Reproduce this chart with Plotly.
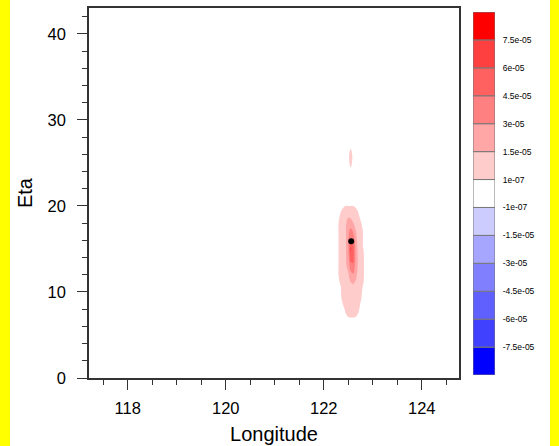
import plotly.graph_objects as go

# ---------------- data ----------------
lon = [122.25, 122.30, 122.35, 122.40, 122.45, 122.50, 122.55,
       122.60, 122.65, 122.70, 122.75, 122.80, 122.85, 122.90]
eta = [6, 7, 8, 9, 10, 11, 12, 13, 14, 15, 16, 17, 18, 19, 20,
       21, 22, 23, 24, 25, 26, 27, 28]
# field values in units of 1e-5
field_e5 = [
    [0, 0, 0, 0, 0, 0, 0, 0, 0, 0, 0, 0, 0, 0],                               # 6
    [0, 0, 0, 0, 0, 0, 0, 0, 0, 0, 0, 0, 0, 0],                               # 7
    [0, 0, 0, 0, 0.02, 0.1, 0.3, 0.3, 0.1, 0.02, 0, 0, 0, 0],                 # 8
    [0, 0, 0, 0.025, 0.3, 0.5, 0.7, 0.7, 0.5, 0.2, 0.0125, 0, 0, 0],          # 9
    [0, 0, 0, 0.3, 0.6, 0.8, 0.9, 1.0, 0.8, 0.5, 0.025, 0, 0, 0],             # 10
    [0, 0, 0.0167, 0.5, 0.9, 1.1, 1.4, 1.6, 1.3, 0.9, 0.4, 0.0125, 0, 0],     # 11
    [0, 0, 0.4, 0.7, 1.1, 1.3, 2.4, 2.8, 2.0, 1.1, 0.5, 0.0167, 0, 0],        # 12
    [0, 0, 0.5, 0.8, 1.3, 2.0, 3.8, 4.2, 2.4, 1.3, 0.6, 0.0167, 0, 0],        # 13
    [0, 0, 0.5, 0.9, 1.4, 2.4, 5.2, 5.0, 2.6, 1.3, 0.6, 0.0167, 0, 0],        # 14
    [0, 0, 0.5, 0.9, 1.4, 2.6, 6.3, 5.0, 2.5, 1.2, 0.5, 0.0125, 0, 0],        # 15
    [0, 0, 0.5, 0.9, 1.4, 2.8, 4.8, 4.2, 2.2, 1.0, 0.4, 0, 0, 0],             # 16
    [0, 0, 0.5, 0.9, 1.4, 2.6, 3.6, 2.9, 1.7, 0.8, 0.3, 0, 0, 0],             # 17
    [0, 0, 0.4, 0.8, 1.3, 2.2, 2.1, 1.6, 1.0, 0.5, 0.015, 0, 0, 0],           # 18
    [0, 0, 0.015, 0.05, 0.8, 1.1, 1.0, 0.8, 0.05, 0.015, 0, 0, 0, 0],         # 19
    [0, 0, 0, 0, 0, 0, 0, 0, 0, 0, 0, 0, 0, 0],                               # 20
    [0, 0, 0, 0, 0, 0, 0, 0, 0, 0, 0, 0, 0, 0],                               # 21
    [0, 0, 0, 0, 0, 0, 0, 0, 0, 0, 0, 0, 0, 0],                               # 22
    [0, 0, 0, 0, 0, 0, 0, 0, 0, 0, 0, 0, 0, 0],                               # 23
    [0, 0, 0, 0, 0, 0, 0, 0, 0, 0, 0, 0, 0, 0],                               # 24
    [0, 0, 0, 0, 0, 0, 0.02, 0, 0, 0, 0, 0, 0, 0],                            # 25
    [0, 0, 0, 0, 0, 0, 0.025, 0, 0, 0, 0, 0, 0, 0],                           # 26
    [0, 0, 0, 0, 0, 0, 0, 0, 0, 0, 0, 0, 0, 0],                               # 27
    [0, 0, 0, 0, 0, 0, 0, 0, 0, 0, 0, 0, 0, 0],                               # 28
]
point_lon = [122.56]
point_eta = [15.9]

# colour bar (bottom -> top)
bar_colors = ["#0000ff", "#4040ff", "#6060ff", "#8080ff", "#a6a6ff", "#ccccff",
              "#ffffff",
              "#ffcccc", "#ffa6a6", "#ff8080", "#ff6060", "#ff4040", "#ff0000"]
bar_labels = ["-7.5e-05", "-6e-05", "-4.5e-05", "-3e-05", "-1.5e-05", "-1e-07",
              "1e-07", "1.5e-05", "3e-05", "4.5e-05", "6e-05", "7.5e-05"]

x_ticks = [118, 120, 122, 124]
y_ticks = [0, 10, 20, 30, 40]

# ---------------- figure ----------------
z = [[v * 1e-5 for v in row] for row in field_e5]
pos_colors = bar_colors[6:]  # white, then reds
n = len(pos_colors)
cscale = [[i / (n - 1), c] for i, c in enumerate(pos_colors)]

FONT = "Liberation Sans, Arial, Helvetica, sans-serif"
LC = "#333333"

fig = go.Figure()
fig.add_trace(go.Contour(
    x=lon, y=eta, z=z,
    colorscale=cscale,
    contours=dict(coloring="fill", start=1e-7, end=7.51e-5, size=1.5e-5),
    line=dict(width=0, smoothing=1.3),
    showscale=False, hoverinfo="skip",
))
fig.add_trace(go.Scatter(
    x=point_lon, y=point_eta, mode="markers",
    marker=dict(color="black", size=6), showlegend=False, hoverinfo="skip",
))

nb = len(bar_colors)
fig.add_trace(go.Bar(
    x=[0] * nb, y=[1] * nb, base=list(range(nb)),
    marker=dict(color=bar_colors, line=dict(color="#777777", width=1)),
    width=1, xaxis="x2", yaxis="y2", showlegend=False, hoverinfo="skip",
))

fig.update_layout(
    width=559, height=446,
    margin=dict(l=89, r=64, t=8, b=68, autoexpand=False),
    paper_bgcolor="white", plot_bgcolor="white",
    font=dict(family=FONT, color="black"),
    showlegend=False,
    barmode="overlay",
    xaxis=dict(
        domain=[0, 370 / 406], range=[117.21, 124.76], automargin=False,
        tickvals=x_ticks, ticks="outside", ticklen=10, tickcolor=LC, tickwidth=1,
        minor=dict(dtick=0.5, ticks="outside", ticklen=5, tickcolor=LC),
        showline=True, linecolor=LC, linewidth=1.5, mirror=True,
        showgrid=False, zeroline=False,
        tickfont=dict(size=16.5), ticklabelstandoff=4,
        title=dict(text="Longitude", font=dict(size=20), standoff=11),
    ),
    yaxis=dict(
        range=[0, 43], automargin=False,
        tickvals=y_ticks, ticks="outside", ticklen=10, tickcolor=LC, tickwidth=1,
        minor=dict(dtick=2, ticks="outside", ticklen=5, tickcolor=LC),
        showline=True, linecolor=LC, linewidth=1.5, mirror=True,
        showgrid=False, zeroline=False,
        tickfont=dict(size=16.5), ticklabelstandoff=8,
        title=dict(text="Eta", font=dict(size=20), standoff=10),
    ),
    xaxis2=dict(domain=[(473 - 89) / 406, (495 - 89) / 406], range=[-0.5, 0.5],
                anchor="y2", visible=False, fixedrange=True, automargin=False),
    yaxis2=dict(domain=[(378 - 375) / 370, (378 - 12) / 370], range=[0, nb],
                anchor="x2", side="right", tickvals=list(range(1, nb)),
                ticktext=bar_labels, ticks="outside", ticklen=5, automargin=False,
                tickcolor="rgba(0,0,0,0)", showline=False, showgrid=False,
                zeroline=False, tickfont=dict(size=8.5)),
    shapes=[
        dict(type="rect", xref="paper", yref="paper",
             x0=-89 / 406, x1=-79 / 406, y0=-68 / 370, y1=378 / 370,
             fillcolor="#ffff00", line=dict(width=0), layer="above"),
        dict(type="rect", xref="paper", yref="paper",
             x0=461 / 406, x1=470 / 406, y0=-68 / 370, y1=378 / 370,
             fillcolor="#ffff00", line=dict(width=0), layer="above"),
    ],
)

fig.write_html("out.html")
